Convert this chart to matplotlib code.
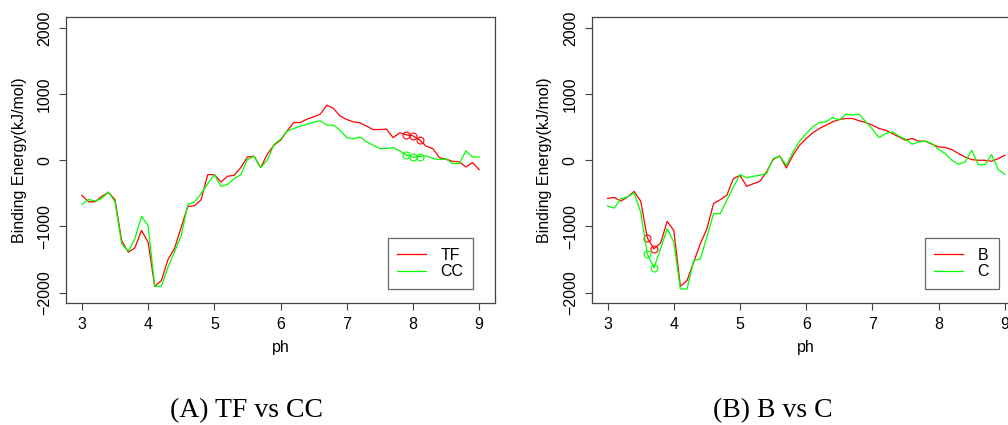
import matplotlib
matplotlib.use("Agg")
import matplotlib.pyplot as plt
import numpy as np

plt.rcParams['font.family'] = ['Liberation Sans', 'DejaVu Sans']

# pH grid, 3.0 .. 9.0 step 0.1
ph = np.round(np.linspace(3.0, 9.0, 61), 1)

# panel A
tf = [-530, -626, -626, -545, -485, -596, -1212, -1389, -1323, -1060,
      -1237, -1904, -1818, -1500, -1328, -1010, -697, -687, -596, -217,
      -217, -328, -242, -227, -111, 50, 60, -111, 91, 227,
      303, 444, 570, 570, 621, 656, 697, 833, 783, 667,
      616, 580, 565, 515, 464, 464, 470, 343, 414, 384,
      369, 308, 212, 177, 40, 15, -15, -25, -101, -35,
      -141]
cc = [-667, -591, -616, -576, -480, -631, -1262, -1374, -1187, -848,
      -985, -1904, -1904, -1616, -1379, -1136, -667, -631, -505, -354,
      -217, -394, -364, -278, -217, 10, 60, -111, 0, 237,
      318, 439, 480, 515, 545, 576, 596, 530, 530, 454,
      343, 323, 353, 278, 227, 177, 177, 192, 141, 81,
      45, 56, 66, 30, 10, 20, -50, -50, 141, 50,
      50]
marks_a = [49, 50, 51]

# panel B
b = [-576, -561, -616, -555, -470, -616, -1172, -1338, -1252, -924,
     -1060, -1904, -1818, -1540, -1262, -1035, -656, -596, -530, -278,
     -227, -394, -354, -318, -177, 10, 66, -116, 76, 227,
     330, 414, 480, 530, 580, 616, 631, 631, 596, 570,
     530, 480, 454, 404, 353, 303, 328, 288, 288, 242,
     202, 192, 162, 101, 50, 10, 0, 0, -15, 25,
     76]
c = [-692, -722, -581, -555, -490, -783, -1414, -1626, -1338, -1035,
     -1237, -1944, -1944, -1515, -1490, -1161, -808, -808, -606, -404,
     -217, -263, -242, -227, -202, 25, 60, -76, 126, 288,
     400, 505, 571, 581, 646, 606, 697, 682, 697, 581,
     470, 343, 404, 429, 364, 318, 242, 278, 288, 252,
     162, 101, 0, -61, -25, 152, -66, -66, 86, -141,
     -212]
marks_b = [6, 7]

panels = [
    (0.0655, tf, cc, 'TF', 'CC', marks_a, '(A) TF vs CC', 247),
    (0.587, b, c, 'B', 'C', marks_b, '(B) B vs C', 773),
]

fig = plt.figure(figsize=(10.08, 4.25), dpi=100)

for left, s1, s2, n1, n2, marks, caption, cx in panels:
    ax = fig.add_axes([left, 0.2864, 0.4256, 0.673])
    ax.plot(ph, s1, color='#ff0000', lw=0.9, label=n1,
            marker='o', markevery=marks, ms=5, mfc='none', mew=0.8)
    ax.plot(ph, s2, color='#00ff00', lw=0.9, label=n2,
            marker='o', markevery=marks, ms=5, mfc='none', mew=0.8)
    ax.set_xlim(2.76, 9.24)
    ax.set_ylim(-2160, 2160)
    ax.set_xticks([3, 4, 5, 6, 7, 8, 9])
    ax.set_yticks([-2000, -1000, 0, 1000, 2000])
    ax.tick_params(length=5, width=0.8, color='#444444', labelsize=11.5, pad=5)
    for lab in ax.get_yticklabels():
        lab.set_rotation(90)
        lab.set_va('center')
    for sp in ax.spines.values():
        sp.set_color('#444444')
        sp.set_linewidth(0.9)
    ax.set_xlabel('ph', fontsize=11.5)
    ax.set_ylabel('Binding Energy(kJ/mol)', fontsize=11.5)
    ax.xaxis.set_label_coords(0.5, -0.13)
    ax.yaxis.set_label_coords(-0.092, 0.5)
    leg = ax.legend(loc='lower right', bbox_to_anchor=(0.9487, 0.05),
                    borderaxespad=0, fancybox=False, fontsize=11.5,
                    handlelength=1.8, handletextpad=0.9, borderpad=0.6,
                    labelspacing=0.1)
    leg.get_frame().set_edgecolor('#444444')
    leg.get_frame().set_linewidth(0.9)
    for h in leg.legend_handles:
        h.set_marker('')
    fig.text(cx / 1008, 1 - 411 / 425, caption, ha='center', va='center',
             fontsize=20, family=['Liberation Serif', 'DejaVu Serif'])

fig.savefig('out.png', dpi=100)
